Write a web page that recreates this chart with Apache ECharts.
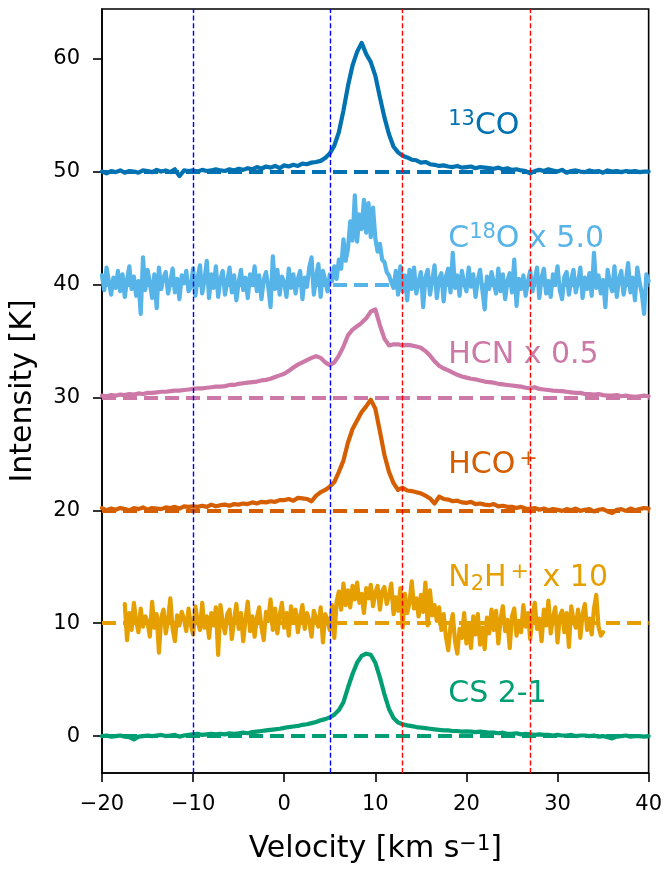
<!DOCTYPE html>
<html>
<head>
<meta charset="utf-8">
<script src="https://cdn.jsdelivr.net/npm/echarts@6/dist/echarts.min.js"></script>
<style>html,body{margin:0;padding:0;background:#fff}#c{width:665px;height:869px}</style>
</head>
<body>
<div id="c"></div>
<script>
// ---------------- data ----------------
// smooth spectra: channels every 0.5 km/s from -20 to 40
const smoothStart = -20, smoothStep = 0.5;
// noisy spectra: channels every 0.25 km/s
const c18oStart = -20, n2hStart = -17.5, noisyStep = 0.25;

const offsets = [50, 40, 30, 20, 10, 0];
const colors = ['#0072B2', '#56B4E9', '#CC79A7', '#D55E00', '#E69F00', '#009E73'];
const labelX = 18;
const labelRise = [4, 4, 3.7, 4, 4, 3.7];

const xTicks = [-20, -10, 0, 10, 20, 30, 40];
const yTicks = [0, 10, 20, 30, 40, 50, 60];
const blueLines = [-10, 5];
const redLines = [13, 27];

// 13CO (relative to its 50 K offset)
const co13 = [
  0.0,-0.15,0.05,-0.05,0.1,-0.1,0.05,0.0,-0.1,0.1,
  0.05,-0.05,0.15,0.0,0.1,-0.05,0.2,-0.4,0.1,0.05,
  0.1,0.0,0.15,0.05,0.1,0.2,0.1,0.05,0.2,0.1,
  0.25,0.15,0.3,0.2,0.4,0.25,0.45,0.35,0.5,0.3,
  0.55,0.45,0.6,0.5,0.7,0.65,0.8,0.85,0.95,1.2,
  1.6,2.3,3.5,5.4,7.6,9.4,10.6,11.4,10.4,9.7,
  8.5,6.6,4.8,3.3,2.2,1.7,1.4,1.25,1.05,1.0,
  0.8,0.85,0.65,0.6,0.5,0.55,0.45,0.4,0.5,0.35,
  0.4,0.45,0.3,0.4,0.35,0.3,0.25,0.35,0.2,0.3,
  0.15,0.2,0.1,0.05,-0.15,0.05,0.15,0.05,0.2,0.1,
  0.0,0.15,-0.1,0.05,0.1,0.0,-0.05,0.1,0.0,0.05,
  -0.1,0.1,0.0,0.05,-0.05,0.05,0.0,0.05,-0.05,0.0,
  0.0
];

// C18O x 5.0 (relative to 40 K offset), 0.25 km/s channels
const c18o = [
  0.8,-0.5,1.5,0.3,   -0.9,0.6,-0.3,1.2,   -0.6,0.9,-1.1,0.4,   1.6,-0.4,0.7,-1.0,
  0.3,-2.6,2.4,-0.5,  1.3,0.2,-1.2,0.9,    -2.1,1.5,-0.4,0.6,   1.1,-0.8,0.2,1.4,
  -0.7,0.5,-1.3,0.8,  0.1,1.2,-0.6,-0.2,   1.4,-1.0,0.6,1.7,    -0.8,0.4,2.1,-1.2,
  0.9,-0.3,1.6,-1.1,  0.5,1.2,-0.9,0.3,    1.5,-0.7,0.8,-1.4,   0.2,1.3,-0.5,0.6,
  -1.2,0.9,0.1,1.6,   -0.6,0.8,-1.3,0.4,   1.1,-0.2,-2.0,2.5,   -0.4,1.3,-0.9,0.7,
  0.2,-1.1,1.4,-0.3,  0.9,-0.8,0.5,1.2,    -1.3,0.6,-0.2,1.5,   2.4,-0.9,0.7,1.8,
  -1.1,1.2,0.4,-0.6,  0.9,0.3,1.6,0.5,     2.2,1.4,4.0,2.1,     3.2,5.6,3.9,7.9,
  3.8,6.2,4.9,7.5,    4.6,7.2,4.2,6.8,     4.1,2.9,3.6,2.2,     2.0,1.1,0.8,0.2,
  -0.3,1.2,-0.9,1.6,  -0.6,0.8,-1.4,1.3,   -0.4,1.5,-0.8,0.2,   1.1,-2.0,0.6,1.3,
  -0.9,0.4,1.7,-1.2,  0.5,1.0,-1.5,0.7,    1.4,-0.7,2.8,-0.3,   0.8,-1.0,1.2,0.1,
  -0.6,1.5,-0.2,0.9,  -1.1,0.4,1.3,-0.5,   -2.2,0.7,-0.4,1.1,   0.2,-0.8,1.4,-0.6,
  0.9,-1.3,0.3,1.0,   -0.7,2.2,-1.9,0.5,   -0.4,0.8,-1.0,0.3,   1.2,-0.6,0.4,1.5,
  -1.2,0.6,1.4,-0.8,  0.3,-1.1,0.9,0.2,    1.6,-0.5,-1.3,0.7,   1.1,-0.9,0.4,1.3,
  -0.7,0.2,1.5,-1.2,  0.6,-0.4,1.0,-1.0,   2.8,-0.3,0.8,-0.8,   0.4,-2.0,1.3,0.1,
  -0.6,1.6,-1.1,0.5,  1.2,-0.9,0.3,1.9,    -0.7,0.6,-1.4,1.5,   0.2,-0.8,-2.6,0.9,
  0.3
];

// HCN x 0.5 (relative to 30 K offset)
const hcn = [
  0.15,0.1,0.2,0.15,0.25,0.2,0.3,0.25,0.35,0.3,
  0.4,0.4,0.45,0.5,0.5,0.55,0.6,0.6,0.65,0.7,
  0.75,0.8,0.8,0.85,0.9,0.95,0.95,1.0,1.1,1.1,
  1.2,1.25,1.3,1.35,1.4,1.5,1.55,1.65,1.8,1.95,
  2.1,2.35,2.65,2.9,3.1,3.3,3.5,3.65,3.5,3.1,
  2.85,3.1,3.7,4.5,5.5,6.0,6.3,6.6,7.0,7.6,
  7.8,6.4,5.2,4.6,4.7,4.7,4.6,4.65,4.6,4.5,
  4.4,4.1,3.7,3.2,2.8,2.55,2.4,2.2,2.0,1.85,
  1.75,1.65,1.6,1.5,1.4,1.35,1.3,1.2,1.15,1.1,
  1.05,1.0,0.95,0.85,0.8,0.9,0.75,0.7,0.65,0.6,
  0.57,0.55,0.5,0.45,0.4,0.4,0.3,0.3,0.25,0.3,
  0.2,0.15,0.15,0.2,0.1,0.15,0.1,0.05,0.1,0.15,
  0.1
];

// HCO+ (relative to 20 K offset)
const hcop = [
  0.2,0.0,0.15,0.05,0.2,0.1,0.0,0.2,0.1,0.25,
  0.05,0.2,0.15,0.1,0.25,0.2,0.3,0.15,0.35,0.3,
  0.35,0.3,0.4,0.3,0.5,0.35,0.45,0.5,0.4,0.55,
  0.5,0.6,0.55,0.7,0.6,0.75,0.7,0.8,0.75,0.9,
  0.9,1.0,0.85,1.1,1.05,1.0,0.8,1.3,1.6,1.8,
  2.1,2.5,3.4,4.4,6.0,7.2,7.95,8.7,9.2,9.8,
  9.0,7.0,4.9,3.4,2.4,1.8,2.0,1.75,1.7,1.6,
  1.5,1.3,1.05,0.6,1.2,1.0,0.95,0.8,0.85,0.7,
  0.65,0.75,0.55,0.6,0.5,0.45,0.55,0.35,0.4,0.3,
  0.3,0.2,0.3,0.15,0.1,0.2,0.05,0.15,0.0,0.1,
  0.05,-0.05,0.1,0.0,0.15,-0.05,0.05,0.1,-0.1,0.05,
  0.1,-0.1,-0.25,0.05,0.1,-0.05,0.15,0.0,0.1,0.2,
  0.15
];

// N2H+ x 10 (relative to 10 K offset), 0.25 km/s channels from -17.5 to 35
const n2hp = [
  1.7,-1.5,
  0.9,-0.6,1.8,0.2,   -0.8,1.3,-0.3,0.6,   0.1,-1.2,1.9,-0.4,   0.8,-2.6,0.5,1.2,
  -0.9,0.3,2.2,-0.5,  -1.6,0.7,-0.2,1.0,   0.4,-0.7,1.3,-0.1,   -1.0,1.5,0.2,-0.6,
  1.8,-0.4,0.6,-1.3,  0.9,-0.2,1.4,-2.8,   1.6,0.1,-0.9,0.8,    1.2,-1.4,0.3,1.7,
  -0.5,0.9,-1.6,0.4,  1.9,-0.7,0.6,-1.2,   0.5,1.4,-0.3,-1.5,   1.0,0.2,2.1,-0.6,
  1.3,-0.9,0.7,1.8,   -0.4,0.9,-1.1,1.5,   0.3,1.2,-0.8,0.6,    1.6,-0.5,0.9,0.2,
  -1.2,1.1,0.4,-0.3,  1.4,-1.7,0.8,0.3,    -0.6,1.6,-1.3,1.9,   2.8,1.2,3.5,1.6,
  2.9,1.4,3.3,2.1,    3.6,1.8,2.6,0.9,     3.1,2.2,3.4,1.5,     2.7,3.3,1.2,2.8,
  3.2,1.7,2.4,3.5,    0.8,2.3,1.1,3.1,     -0.4,2.6,0.9,1.8,    3.7,1.3,2.2,0.6,
  2.5,1.0,3.6,-0.2,   2.9,0.7,1.6,0.2,     1.4,-0.6,0.8,-1.2,   -2.4,-0.3,0.8,-1.6,
  -2.7,-0.5,-1.3,0.9, -1.8,-0.2,-2.2,0.6,  -1.0,0.8,-1.9,-0.4,  -2.3,0.5,-0.9,1.2,
  -0.6,1.1,-1.8,0.4,  1.5,-0.7,0.3,-2.2,   0.6,1.3,-1.1,0.2,    -0.8,1.6,-0.3,0.9,
  -1.4,0.7,1.8,-0.5,  0.4,-1.6,1.2,-0.2,   2.0,-0.9,0.5,1.4,    -1.7,0.6,1.1,-0.8,
  0.9,-2.1,1.5,0.3,   -0.4,1.2,-1.3,0.8,   1.7,-0.6,0.4,-1.0,   1.3,2.5,-0.3,-1.1,
  -0.8
];

// CS 2-1 (no offset)
const cs = [
  0.0,0.05,-0.05,0.0,0.05,-0.05,-0.1,-0.3,-0.05,0.0,
  0.05,0.0,0.05,0.1,0.0,0.05,0.1,-0.05,0.05,0.1,
  0.15,0.2,0.1,0.15,0.2,0.15,0.2,0.15,0.25,0.2,
  0.25,0.3,0.25,0.35,0.4,0.45,0.5,0.55,0.6,0.65,
  0.73,0.8,0.85,0.9,1.0,1.05,1.15,1.25,1.4,1.5,
  1.65,1.9,2.3,3.0,4.3,5.5,6.5,7.1,7.3,7.2,
  6.5,5.2,3.7,2.4,1.6,1.2,1.05,0.95,0.88,0.8,
  0.75,0.7,0.65,0.6,0.55,0.5,0.5,0.45,0.45,0.4,
  0.42,0.4,0.35,0.4,0.35,0.3,0.3,0.25,0.3,0.2,
  0.2,0.25,0.15,0.2,0.15,0.1,0.15,0.1,0.1,0.05,
  0.1,0.05,0.05,0.1,0.0,0.05,0.05,0.0,0.05,-0.05,
  0.0,-0.1,-0.2,-0.05,0.0,0.05,-0.05,0.0,0.0,-0.05,
  0.0
];

// label texts (rich-text markup for super/subscripts)
const labelTexts = [
  '{sup|13}{m|CO}',
  '{m|C}{sup|18}{m|O x 5.0}',
  '{m|HCN x 0.5}',
  '{m|HCO}{supp|+}',
  '{m|N}{sub|2}{m|H}{supp|+}{mg| x 10}',
  '{m|CS 2-1}'
];

// ---------------- chart ----------------
const FONT = 'DejaVu Sans';
const spectra = [
  {vals: co13, start: smoothStart, step: smoothStep},
  {vals: c18o, start: c18oStart, step: noisyStep},
  {vals: hcn, start: smoothStart, step: smoothStep},
  {vals: hcop, start: smoothStart, step: smoothStep},
  {vals: n2hp, start: n2hStart, step: noisyStep},
  {vals: cs, start: smoothStart, step: smoothStep}
];

const series = [];
spectra.forEach((s, k) => {
  series.push({
    type: 'line',
    name: 'spec' + k,
    data: s.vals.map((y, i) => [s.start + i * s.step, offsets[k] + y]),
    showSymbol: false,
    symbol: 'none',
    z: 2,
    lineStyle: {color: colors[k], width: 4.2, join: 'round', cap: 'round', opacity: 1},
    silent: true,
    markLine: {
      silent: true,
      symbol: ['none', 'none'],
      label: {show: false},
      lineStyle: {color: colors[k], width: 4, type: [14, 7], opacity: 1},
      data: [{yAxis: offsets[k]}]
    }
  });
});

// vertical reference lines
series.push({
  type: 'line',
  data: [],
  z: 6,
  silent: true,
  markLine: {
    silent: true,
    symbol: ['none', 'none'],
    label: {show: false},
    data: blueLines.map(v => ({xAxis: v, lineStyle: {color: '#0000ff', width: 1.4, type: [5, 2.6], opacity: 1}}))
      .concat(redLines.map(v => ({xAxis: v, lineStyle: {color: '#ff0000', width: 1.4, type: [5, 2.6], opacity: 1}})))
  }
});

// text labels
function richFor(color) {
  return {
    m: {fontFamily: FONT, fontSize: 30, lineHeight: 34, color: color, opacity: 1},
    mg: {fontFamily: FONT, fontSize: 30, lineHeight: 34, color: color, padding: [0, 0, 0, 4], opacity: 1},
    sup: {fontFamily: FONT, fontSize: 21, lineHeight: 15, verticalAlign: 'top', color: color, opacity: 1},
    supp: {fontFamily: FONT, fontSize: 22, lineHeight: 17, verticalAlign: 'top', color: color, padding: [0, 0, 0, 4], opacity: 1},
    sub: {fontFamily: FONT, fontSize: 21, lineHeight: 15, verticalAlign: 'bottom', color: color, opacity: 1}
  };
}
series.push({
  type: 'scatter',
  symbolSize: 0,
  z: 3,
  silent: true,
  itemStyle: {opacity: 1},
  data: offsets.map((o, k) => ({
    value: [labelX, o + labelRise[k]],
    itemStyle: {opacity: 1},
    label: {
      show: true,
      position: 'right',
      distance: 0,
      opacity: 1,
      formatter: labelTexts[k],
      rich: richFor(colors[k])
    }
  }))
});

const chart = echarts.init(document.getElementById('c'), null, {renderer: 'canvas'});
chart.setOption({
  animation: false,
  backgroundColor: '#ffffff',
  textStyle: {fontFamily: FONT},
  grid: {left: 101, right: 15, top: 9, bottom: 93, show: true, borderColor: '#000', borderWidth: 1.6, backgroundColor: 'transparent'},
  xAxis: {
    type: 'value',
    min: -20, max: 40, interval: 10,
    name: 'Velocity [km s{s|\u22121}]',
    nameLocation: 'middle',
    nameGap: 61,
    nameTextStyle: {
      fontFamily: FONT, fontSize: 30, color: '#000',
      rich: {s: {fontFamily: FONT, fontSize: 21, lineHeight: 15, verticalAlign: 'top', color: '#000'}}
    },
    axisLine: {show: true, onZero: false, lineStyle: {color: '#000', width: 1.6}},
    axisTick: {show: true, length: 9, inside: false, lineStyle: {color: '#000', width: 1.6}},
    axisLabel: {fontFamily: FONT, fontSize: 21, color: '#000', margin: 21, formatter: v => String(v).replace('-', '\u2212')},
    splitLine: {show: false}
  },
  yAxis: {
    type: 'value',
    min: -3.27, max: 64.4,
    name: 'Intensity [K]',
    nameLocation: 'middle',
    nameGap: 64,
    nameTextStyle: {fontFamily: FONT, fontSize: 30, color: '#000'},
    axisLine: {show: true, onZero: false, lineStyle: {color: '#000', width: 1.6}},
    axisTick: {show: true, length: 9, inside: false, customValues: yTicks, lineStyle: {color: '#000', width: 1.6}},
    axisLabel: {fontFamily: FONT, fontSize: 21, color: '#000', margin: 22, customValues: yTicks},
    splitLine: {show: false}
  },
  series: series
});
</script>
</body>
</html>
